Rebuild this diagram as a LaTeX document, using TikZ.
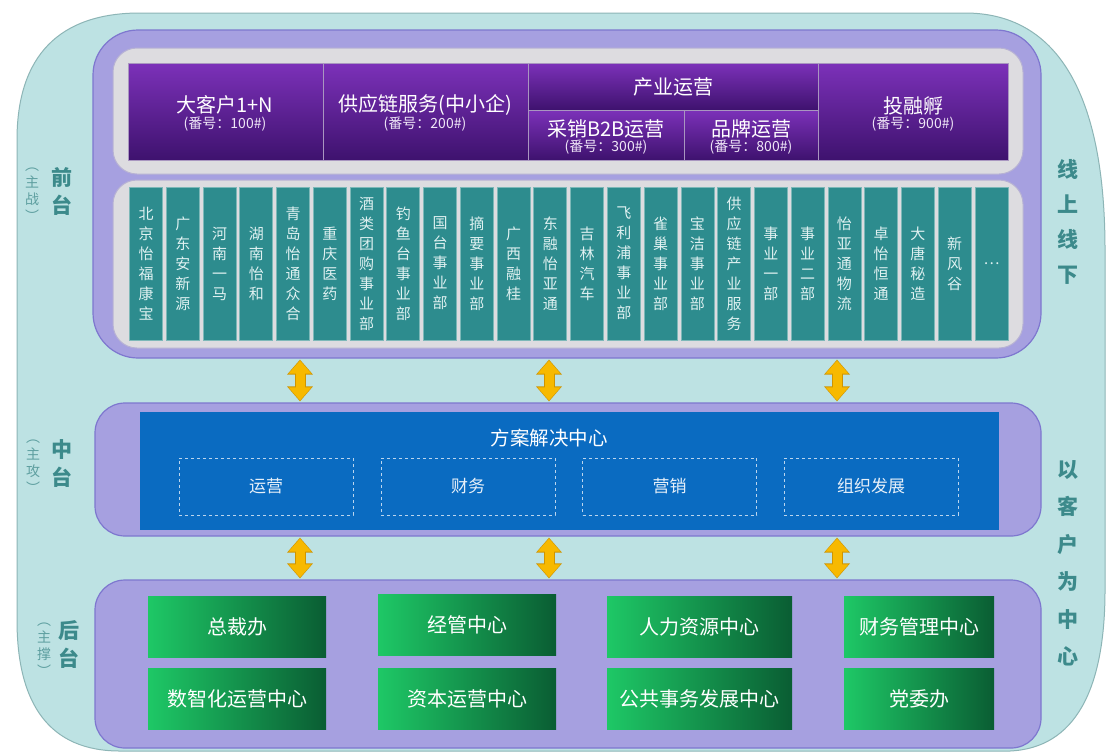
\documentclass[tikz,border=0pt]{standalone}
\usepackage{fontspec}
\newfontfamily\cjk{Noto Sans CJK SC}
\usetikzlibrary{arrows.meta}
\definecolor{outerfill}{HTML}{BDE2E3}
\definecolor{outerline}{HTML}{8DB5B6}
\definecolor{panelfill}{HTML}{A6A0E0}
\definecolor{panelline}{HTML}{7E77CF}
\definecolor{grayfill}{HTML}{DDDCE0}
\definecolor{grayline}{HTML}{B7B2D4}
\definecolor{hpA}{HTML}{7C31B9}
\definecolor{hpB}{HTML}{6A26A2}
\definecolor{hpC}{HTML}{3E126E}
\definecolor{hline}{HTML}{A996C0}
\definecolor{tealcol}{HTML}{2D8C8E}
\definecolor{tealline}{HTML}{7DB8B8}
\definecolor{tealtext}{HTML}{DFF1F1}
\definecolor{blue}{HTML}{0A6BC1}
\definecolor{dash}{HTML}{BBD5EE}
\definecolor{ylw}{HTML}{F7B900}
\definecolor{ylwdark}{HTML}{CF9400}
\definecolor{grA}{HTML}{1EC866}
\definecolor{grB}{HTML}{17B059}
\definecolor{grC}{HTML}{0A5D33}
\definecolor{lbl}{HTML}{3C8A8B}
\definecolor{lbllight}{HTML}{5E9FA0}
\begin{document}
\begin{tikzpicture}[x=1pt,y=-1pt,font=\cjk,
  panel/.style={draw=panelline,line width=1.2pt,fill=panelfill,rounded corners=#1,inner sep=0pt},
  graybox/.style={draw=grayline,line width=1pt,fill=grayfill,rounded corners=24pt,inner sep=0pt},
  hcell/.style={draw=hline,line width=0.8pt,top color=hpA,middle color=hpB,bottom color=hpC,inner sep=0pt},
  htitle/.style={text=white,font=\cjk\fontsize{20}{22}\selectfont,inner sep=0pt},
  hsub/.style={text=white!88!hpA,font=\cjk\fontsize{14}{16}\selectfont,inner sep=0pt},
  colbox/.style={draw=tealline,line width=0.8pt,fill=tealcol,minimum width=33pt,minimum height=153pt,inner sep=0pt},
  coltext/.style={text=tealtext,font=\cjk\fontsize{15}{20}\selectfont,align=center,inner sep=0pt},
  dashbox/.style={draw=dash,dashed,line width=0.8pt,minimum width=174pt,minimum height=57pt,inner sep=0pt,text=white!90!blue,font=\cjk\fontsize{17}{19}\selectfont},
  greenbox/.style={left color=grA,middle color=grB,right color=grC,minimum height=61pt,inner sep=0pt,text=white,font=\cjk\fontsize{20}{22}\selectfont},
  sidebig/.style={text=lbl,font=\cjk\bfseries\fontsize{21}{28}\selectfont,align=center,inner sep=0pt},
  sidesmall/.style={text=lbllight,font=\cjk\fontsize{14}{17}\selectfont,align=center,inner sep=0pt},
  arrbg/.style={line width=11pt,draw=ylwdark,{Triangle[width=25pt,length=15pt]}-{Triangle[width=25pt,length=15pt]}},
  arrfg/.style={line width=9pt,draw=ylw,{Triangle[width=22pt,length=13pt]}-{Triangle[width=22pt,length=13pt]}}
]
\useasboundingbox (0,0) rectangle (1107,753);
\fill[white] (0,0) rectangle (1107,753);
% outer background shape
\draw[fill=outerfill,draw=outerline,line width=1pt]
  (17,140) .. controls (17,55) and (60,13) .. (140,13) -- (965,13)
  .. controls (1055,13) and (1105,90) .. (1105,250) -- (1105,590)
  .. controls (1105,690) and (1075,748) .. (1010,751) -- (120,751)
  .. controls (50,751) and (17,705) .. (17,620) -- cycle;

% ---------- front panel ----------
\node[panel=45pt,minimum width=948pt,minimum height=328pt] (front) at (567,194) {};
\node[graybox,minimum width=910pt,minimum height=126pt] (hdrbg) at (568,111) {};
\node[graybox,minimum width=910pt,minimum height=168pt] (colbg) at (568,264) {};

\node[hcell,minimum width=195pt,minimum height=97pt] (h1) at (225.5,111.5) {};
\node[hcell,minimum width=205pt,minimum height=97pt] (h2) at (425.5,111.5) {};
\node[hcell,minimum width=290pt,minimum height=47pt] (h3) at (673,86.5) {};
\node[hcell,minimum width=156pt,minimum height=50pt] (h3a) at (606,135) {};
\node[hcell,minimum width=134pt,minimum height=50pt] (h3b) at (751,135) {};
\node[hcell,minimum width=190pt,minimum height=97pt] (h4) at (913,111.5) {};

\node[htitle] (t1) at (225,105) {大客户1+N};
\node[hsub] (s1) at (225,124) {(番号：100\#)};
\node[htitle] (t2) at (425,105) {供应链服务(中小企)};
\node[hsub] (s2) at (425,124) {(番号：200\#)};
\node[htitle] (t3) at (673,87) {产业运营};
\node[htitle] (t3a) at (606,129) {采销B2B运营};
\node[hsub] (s3a) at (606,147) {(番号：300\#)};
\node[htitle] (t3b) at (751,129) {品牌运营};
\node[hsub] (s3b) at (751,147) {(番号：800\#)};
\node[htitle] (t4) at (913,106) {投融孵};
\node[hsub] (s4) at (913,124) {(番号：900\#)};

\foreach \t [count=\i from 0] in {
  {北\\京\\怡\\福\\康\\宝},{广\\东\\安\\新\\源},{河\\南\\一\\马},{湖\\南\\怡\\和},
  {青\\岛\\怡\\通\\众\\合},{重\\庆\\医\\药},{酒\\类\\团\\购\\事\\业\\部},{钓\\鱼\\台\\事\\业\\部},
  {国\\台\\事\\业\\部},{摘\\要\\事\\业\\部},{广\\西\\融\\桂},{东\\融\\怡\\亚\\通},
  {吉\\林\\汽\\车},{飞\\利\\浦\\事\\业\\部},{雀\\巢\\事\\业\\部},{宝\\洁\\事\\业\\部},
  {供\\应\\链\\产\\业\\服\\务},{事\\业\\一\\部},{事\\业\\二\\部},{怡\\亚\\通\\物\\流},
  {卓\\怡\\恒\\通},{大\\唐\\秘\\造},{新\\风\\谷},{…}}{
  \node[colbox] (col\i) at ({146+\i*36.76},263.5) {};
  \node[coltext] (ct\i) at (col\i.center) {\t};
}

% ---------- middle panel ----------
\node[panel=30pt,minimum width=946pt,minimum height=133pt] (mid) at (568,469.5) {};
\node[fill=blue,minimum width=859pt,minimum height=118pt,inner sep=0pt] (sol) at (569.5,471) {};
\node[text=white,font=\cjk\fontsize{19.5}{21}\selectfont,inner sep=0pt] (soltitle) at (549,438) {方案解决中心};
\node[dashbox] (d1) at (266,486.5) {运营};
\node[dashbox] (d2) at (468,486.5) {财务};
\node[dashbox] (d3) at (669.5,486.5) {营销};
\node[dashbox] (d4) at (871,486.5) {组织发展};

% ---------- back panel ----------
\node[panel=30pt,minimum width=946pt,minimum height=168pt] (back) at (568,664) {};
\node[greenbox,minimum width=178pt] (g1) at (237,627) {总裁办};
\node[greenbox,minimum width=178pt] (g2) at (467,625) {经管中心};
\node[greenbox,minimum width=185pt] (g3) at (699.5,627) {人力资源中心};
\node[greenbox,minimum width=150pt] (g4) at (919,627) {财务管理中心};
\node[greenbox,minimum width=178pt] (g5) at (237,698.5) {数智化运营中心};
\node[greenbox,minimum width=178pt] (g6) at (467,698.5) {资本运营中心};
\node[greenbox,minimum width=185pt] (g7) at (699.5,698.5) {公共事务发展中心};
\node[greenbox,minimum width=150pt] (g8) at (919,698.5) {党委办};

% ---------- arrows ----------
\foreach \x [count=\k] in {300,549,837}{
  \coordinate (ax\k) at (\x,0);
  \draw[arrbg] ([yshift=-1pt]front.south -| ax\k) -- ([yshift=1pt]mid.north -| ax\k);
  \draw[arrfg] ([yshift=-2pt]front.south -| ax\k) -- ([yshift=2pt]mid.north -| ax\k);
  \draw[arrbg] ([yshift=-1pt]mid.south -| ax\k) -- ([yshift=1pt]back.north -| ax\k);
  \draw[arrfg] ([yshift=-2pt]mid.south -| ax\k) -- ([yshift=2pt]back.north -| ax\k);
}

% ---------- side labels ----------
\node[sidebig] (lf) at (62,191) {前\\台};
\node[sidesmall] (lfs) at (32,195) {︵\\主\\战\\︶};
\node[sidebig] (lm) at (62,463) {中\\台};
\node[sidesmall] (lms) at (33,467) {︵\\主\\攻\\︶};
\node[sidebig] (lb) at (69,644) {后\\台};
\node[sidesmall] (lbs) at (44,650) {︵\\主\\撑\\︶};

\node[sidebig,font=\cjk\bfseries\fontsize{21}{35}\selectfont] (rt) at (1068,222) {线\\上\\线\\下};
\node[sidebig,font=\cjk\bfseries\fontsize{21}{37.5}\selectfont] (rb) at (1068,563.5) {以\\客\\户\\为\\中\\心};
\end{tikzpicture}
\end{document}
